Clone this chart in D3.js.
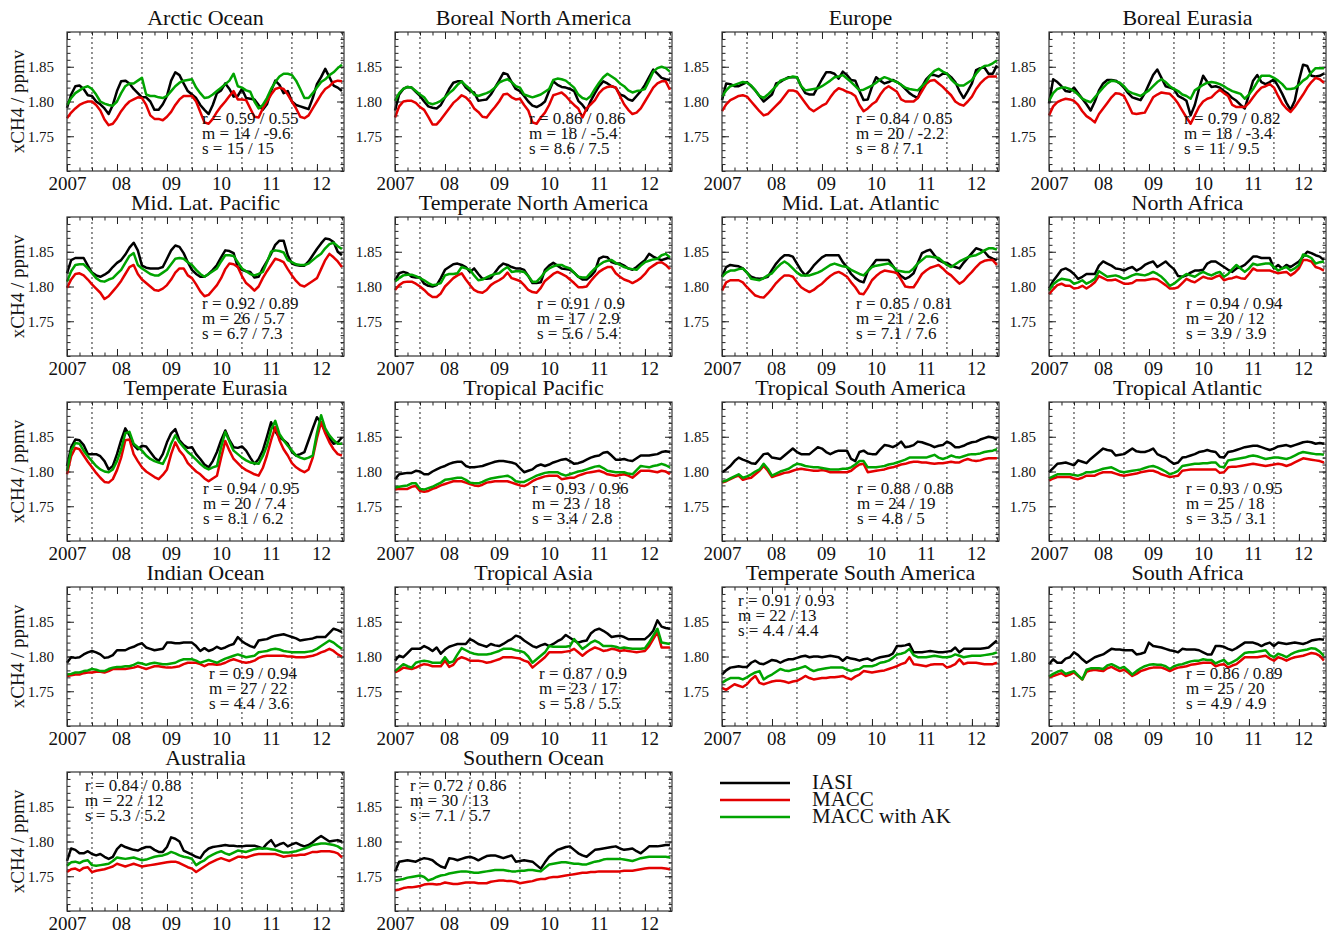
<!DOCTYPE html>
<html>
<head>
<meta charset="utf-8">
<script src="https://cdn.jsdelivr.net/npm/d3@7"></script>
<style>
  body { margin: 0; background: #fff; }
  svg text { font-family: "Liberation Serif", "Times New Roman", serif; fill: #111; }
</style>
</head>
<body>
<svg id="chart" width="1331" height="932"></svg>
<script>
// ---- data (ppb, monthly Jan 2007 .. Jul 2012) ----
const yearLabels = ["2007", "08", "09", "10", "11", "12"];
const yTickValues = [1.75, 1.80, 1.85];
const seriesNames = ["IASI", "MACC", "MACC with AK"];

const regionNames = [
  "Arctic Ocean", "Boreal North America", "Europe", "Boreal Eurasia",
  "Mid. Lat. Pacific", "Temperate North America", "Mid. Lat. Atlantic", "North Africa",
  "Temperate Eurasia", "Tropical Pacific", "Tropical South America", "Tropical Atlantic",
  "Indian Ocean", "Tropical Asia", "Temperate South America", "South Africa",
  "Australia", "Southern Ocean"
];

const statR = ["0.59 / 0.55", "0.86 / 0.86", "0.84 / 0.85", "0.79 / 0.82", "0.92 / 0.89", "0.91 / 0.9",
  "0.85 / 0.81", "0.94 / 0.94", "0.94 / 0.95", "0.93 / 0.96", "0.88 / 0.88", "0.93 / 0.95",
  "0.9 / 0.94", "0.87 / 0.9", "0.91 / 0.93", "0.86 / 0.89", "0.84 / 0.88", "0.72 / 0.86"];
const statM = ["14 / -9.6", "18 / -5.4", "20 / -2.2", "18 / -3.4", "26 / 5.7", "17 / 2.9",
  "21 / 2.6", "20 / 12", "20 / 7.4", "23 / 18", "24 / 19", "25 / 18",
  "27 / 22", "23 / 17", "22 / 13", "25 / 20", "22 / 12", "30 / 13"];
const statS = ["15 / 15", "8.6 / 7.5", "8 / 7.1", "11 / 9.5", "6.7 / 7.3", "5.6 / 5.4",
  "7.1 / 7.6", "3.9 / 3.9", "8.1 / 6.2", "3.4 / 2.8", "4.8 / 5", "3.5 / 3.1",
  "4.4 / 3.6", "5.8 / 5.5", "4.4 / 4.4", "4.9 / 4.9", "5.3 / 5.2", "7.1 / 5.7"];

const arcticIasi = [1791,1810,1822,1823,1818,1809,1808,1800,1796,1790,1782,1795,1815,1829,1830,1826,1818,1812,1806,1806,1800,1788,1788,1796,1808,1830,1842,1838,1826,1815,1810,1805,1795,1788,1782,1795,1812,1816,1826,1818,1807,1808,1818,1805,1804,1803,1795,1788,1796,1815,1830,1824,1812,1815,1800,1795,1793,1791,1789,1805,1825,1835,1847,1835,1823,1820,1815];
const arcticMacc = [1776,1784,1790,1795,1798,1800,1800,1795,1787,1774,1766,1768,1776,1786,1794,1800,1803,1806,1805,1795,1780,1775,1775,1773,1778,1785,1795,1803,1808,1808,1808,1800,1785,1770,1768,1775,1785,1793,1800,1808,1815,1803,1803,1802,1790,1778,1777,1790,1800,1810,1818,1820,1818,1810,1800,1790,1778,1776,1780,1790,1800,1810,1818,1822,1828,1830,1829];
const arcticAk = [1795,1805,1812,1816,1820,1822,1818,1810,1800,1797,1795,1794,1800,1812,1822,1826,1826,1830,1834,1810,1808,1808,1806,1805,1808,1815,1822,1827,1830,1831,1832,1820,1812,1805,1806,1810,1815,1820,1825,1830,1840,1822,1820,1816,1814,1800,1790,1795,1805,1818,1828,1836,1840,1840,1838,1830,1818,1805,1805,1812,1820,1828,1832,1838,1842,1848,1853];

const borealNaIasi = [1787,1810,1818,1821,1820,1814,1808,1800,1793,1791,1790,1795,1806,1818,1827,1829,1829,1820,1815,1813,1801,1802,1803,1810,1820,1830,1841,1839,1828,1818,1815,1808,1800,1794,1792,1795,1800,1815,1829,1824,1821,1820,1818,1815,1801,1795,1787,1801,1812,1822,1829,1826,1822,1820,1810,1808,1803,1801,1808,1815,1824,1835,1846,1840,1834,1832,1831];
const borealNaMacc = [1777,1793,1800,1801,1801,1798,1792,1788,1778,1767,1767,1774,1782,1790,1798,1803,1809,1806,1800,1790,1785,1778,1777,1785,1792,1800,1810,1811,1806,1803,1804,1795,1787,1770,1768,1777,1784,1795,1809,1811,1813,1808,1801,1795,1790,1777,1790,1796,1802,1812,1818,1821,1822,1820,1808,1796,1788,1782,1784,1790,1800,1810,1820,1826,1829,1829,1817];
const borealNaAk = [1801,1812,1818,1821,1820,1815,1810,1806,1798,1796,1798,1801,1806,1812,1817,1824,1829,1823,1818,1810,1808,1810,1812,1815,1820,1827,1830,1832,1828,1822,1820,1810,1808,1806,1808,1810,1814,1818,1831,1833,1832,1830,1825,1820,1810,1805,1803,1808,1818,1827,1835,1840,1836,1832,1826,1822,1816,1813,1815,1816,1818,1830,1843,1848,1850,1848,1843];

const europeIasi = [1802,1826,1825,1822,1822,1825,1828,1822,1816,1808,1800,1805,1810,1826,1828,1832,1835,1835,1835,1822,1812,1810,1810,1821,1832,1842,1842,1840,1833,1843,1838,1831,1830,1815,1802,1803,1821,1835,1830,1826,1828,1831,1828,1824,1818,1812,1808,1805,1821,1832,1838,1838,1836,1840,1840,1835,1828,1815,1805,1815,1826,1845,1848,1849,1840,1840,1852];
const europeMacc = [1786,1796,1802,1805,1808,1809,1807,1800,1793,1786,1780,1782,1788,1794,1800,1808,1816,1816,1814,1806,1798,1790,1786,1790,1794,1797,1806,1814,1819,1817,1814,1812,1808,1795,1786,1790,1796,1800,1810,1818,1822,1818,1814,1803,1800,1800,1800,1805,1815,1825,1830,1831,1826,1821,1815,1809,1800,1796,1794,1800,1807,1818,1826,1832,1836,1836,1836];
const europeAk = [1807,1816,1822,1824,1826,1828,1827,1823,1816,1808,1805,1810,1816,1822,1830,1832,1834,1836,1835,1822,1816,1817,1818,1819,1822,1826,1830,1835,1836,1838,1833,1828,1822,1816,1817,1820,1823,1827,1832,1835,1833,1830,1828,1824,1820,1818,1817,1816,1822,1828,1838,1844,1847,1843,1840,1832,1826,1823,1823,1827,1831,1840,1847,1851,1852,1855,1859];

const borealEuIasi = [1797,1832,1828,1822,1815,1814,1820,1812,1804,1796,1787,1800,1816,1826,1831,1831,1830,1826,1820,1812,1806,1804,1802,1812,1825,1838,1846,1834,1822,1820,1818,1808,1805,1801,1780,1795,1818,1837,1828,1821,1822,1820,1815,1811,1805,1801,1795,1790,1810,1830,1838,1828,1825,1828,1832,1822,1811,1798,1788,1801,1830,1853,1851,1837,1836,1837,1840];
const borealEuMacc = [1780,1793,1799,1802,1804,1803,1801,1795,1786,1779,1775,1770,1782,1790,1798,1806,1812,1811,1808,1796,1783,1782,1783,1784,1795,1806,1810,1813,1812,1811,1805,1797,1787,1777,1768,1780,1792,1800,1804,1806,1812,1817,1812,1808,1795,1792,1792,1792,1798,1806,1814,1820,1822,1825,1820,1808,1797,1790,1785,1792,1801,1810,1820,1828,1834,1832,1827];
const borealEuAk = [1801,1812,1818,1820,1820,1818,1815,1810,1804,1801,1799,1806,1813,1820,1826,1830,1829,1827,1822,1815,1812,1810,1808,1812,1816,1822,1828,1832,1828,1822,1818,1815,1810,1808,1804,1816,1820,1824,1827,1828,1827,1825,1822,1818,1815,1813,1811,1804,1810,1818,1828,1837,1837,1837,1834,1830,1825,1818,1818,1819,1824,1830,1834,1842,1848,1848,1848];

const mlPacificIasi = [1819,1838,1841,1841,1841,1830,1820,1816,1814,1817,1821,1828,1834,1838,1846,1856,1863,1852,1830,1827,1826,1826,1826,1828,1840,1852,1859,1857,1848,1835,1824,1818,1814,1814,1818,1824,1831,1842,1852,1851,1848,1828,1824,1822,1821,1813,1814,1826,1836,1847,1860,1866,1866,1845,1833,1831,1830,1830,1836,1845,1854,1862,1869,1868,1864,1850,1845];
const mlPacificMacc = [1798,1810,1818,1819,1816,1810,1803,1797,1791,1782,1786,1793,1800,1808,1818,1828,1831,1818,1810,1805,1800,1795,1794,1797,1802,1810,1820,1826,1826,1816,1812,1803,1793,1786,1788,1795,1802,1812,1825,1833,1832,1828,1815,1805,1800,1794,1800,1812,1822,1831,1840,1838,1835,1825,1816,1808,1802,1800,1804,1808,1812,1825,1838,1847,1842,1836,1828];
const mlPacificAk = [1807,1822,1831,1832,1832,1826,1819,1812,1808,1807,1810,1812,1818,1824,1834,1844,1848,1831,1826,1822,1818,1816,1816,1820,1824,1832,1840,1841,1840,1835,1831,1824,1818,1814,1818,1822,1826,1836,1845,1845,1844,1835,1826,1822,1818,1816,1818,1821,1835,1850,1852,1851,1849,1838,1835,1832,1831,1831,1833,1838,1843,1847,1855,1861,1863,1858,1854];

const tempNaIasi = [1809,1819,1821,1819,1814,1813,1813,1804,1801,1800,1802,1812,1824,1828,1832,1833,1831,1828,1821,1826,1818,1811,1811,1812,1820,1828,1833,1831,1828,1826,1826,1824,1815,1805,1805,1806,1824,1830,1834,1830,1826,1825,1824,1820,1814,1810,1810,1815,1822,1840,1843,1842,1835,1833,1833,1830,1826,1824,1828,1833,1838,1847,1843,1840,1838,1840,1842];
const tempNaMacc = [1795,1802,1806,1807,1807,1804,1800,1795,1789,1785,1785,1790,1800,1806,1812,1816,1819,1810,1802,1795,1792,1791,1795,1802,1806,1809,1813,1820,1812,1810,1808,1802,1795,1792,1791,1798,1808,1813,1818,1821,1818,1815,1810,1805,1799,1799,1800,1808,1815,1821,1825,1828,1828,1819,1814,1810,1808,1805,1808,1812,1818,1826,1830,1834,1835,1831,1825];
const tempNaAk = [1807,1812,1816,1817,1817,1815,1812,1809,1805,1802,1803,1805,1816,1818,1818,1819,1828,1826,1824,1816,1809,1810,1813,1816,1818,1819,1824,1828,1821,1822,1822,1821,1815,1807,1807,1813,1821,1826,1829,1831,1831,1828,1826,1820,1814,1813,1813,1820,1826,1831,1835,1837,1838,1834,1831,1828,1826,1825,1824,1830,1835,1837,1839,1840,1845,1847,1842];

const mlAtlanticIasi = [1814,1828,1831,1830,1829,1826,1820,1814,1812,1811,1812,1814,1824,1833,1840,1845,1845,1843,1833,1823,1816,1822,1830,1836,1842,1845,1845,1845,1845,1835,1828,1818,1812,1808,1806,1822,1830,1838,1838,1838,1838,1830,1821,1815,1811,1814,1819,1834,1848,1851,1853,1845,1838,1835,1834,1830,1828,1826,1834,1841,1848,1855,1853,1850,1843,1840,1838];
const mlAtlanticMacc = [1794,1806,1809,1809,1809,1806,1799,1793,1787,1785,1784,1790,1797,1805,1811,1816,1816,1814,1806,1799,1795,1792,1795,1800,1804,1810,1815,1819,1821,1818,1814,1806,1799,1790,1789,1798,1809,1815,1820,1823,1822,1821,1819,1810,1800,1799,1799,1808,1818,1823,1827,1829,1831,1826,1820,1816,1810,1804,1808,1815,1821,1828,1834,1837,1838,1838,1831];
const mlAtlanticAk = [1814,1820,1823,1823,1825,1826,1820,1811,1810,1809,1812,1816,1819,1826,1832,1836,1832,1826,1820,1816,1816,1816,1818,1820,1823,1827,1831,1833,1831,1829,1828,1824,1821,1818,1816,1822,1828,1830,1831,1832,1833,1829,1823,1822,1821,1821,1826,1833,1838,1843,1843,1842,1841,1836,1831,1828,1832,1836,1839,1842,1844,1845,1848,1852,1855,1855,1853];

const nAfricaIasi = [1797,1808,1816,1824,1826,1823,1818,1811,1814,1818,1818,1818,1830,1836,1833,1830,1826,1825,1823,1826,1828,1823,1826,1831,1834,1836,1828,1832,1836,1830,1825,1815,1814,1816,1820,1823,1823,1824,1833,1836,1836,1832,1828,1824,1821,1826,1828,1831,1837,1843,1843,1841,1841,1841,1826,1831,1826,1831,1828,1832,1836,1843,1850,1848,1845,1843,1838];
const nAfricaMacc = [1789,1796,1802,1804,1801,1801,1797,1798,1801,1797,1801,1806,1815,1812,1809,1809,1810,1807,1804,1804,1805,1809,1809,1809,1810,1811,1810,1806,1802,1797,1797,1799,1805,1811,1808,1806,1810,1814,1812,1811,1814,1816,1809,1811,1812,1814,1812,1811,1818,1826,1823,1823,1823,1823,1821,1819,1820,1821,1816,1820,1826,1838,1838,1836,1828,1826,1823];
const nAfricaAk = [1794,1803,1808,1811,1810,1809,1804,1806,1809,1804,1807,1811,1822,1818,1814,1815,1816,1814,1811,1813,1816,1818,1817,1816,1818,1821,1818,1814,1808,1801,1804,1809,1814,1818,1816,1814,1818,1821,1818,1816,1819,1821,1814,1818,1825,1831,1826,1821,1826,1833,1831,1832,1833,1833,1828,1823,1826,1828,1823,1826,1831,1846,1844,1841,1833,1835,1836];

const tempEuIasi = [1808,1835,1846,1845,1838,1825,1825,1825,1822,1815,1803,1808,1825,1845,1862,1852,1838,1832,1837,1836,1828,1820,1815,1825,1842,1855,1861,1845,1838,1834,1835,1825,1818,1810,1806,1815,1828,1845,1859,1845,1835,1834,1836,1830,1820,1811,1818,1830,1850,1871,1858,1849,1845,1840,1828,1823,1825,1828,1845,1862,1878,1870,1858,1848,1840,1842,1849];
const tempEuMacc = [1796,1822,1834,1832,1823,1814,1806,1798,1791,1785,1784,1789,1802,1820,1845,1846,1825,1815,1806,1800,1796,1792,1789,1795,1803,1825,1842,1830,1823,1812,1806,1800,1796,1790,1786,1790,1794,1820,1844,1830,1818,1812,1806,1802,1799,1796,1794,1805,1823,1845,1864,1845,1832,1823,1812,1806,1802,1799,1803,1820,1848,1871,1855,1842,1832,1825,1823];
const tempEuAk = [1801,1830,1841,1840,1830,1822,1815,1808,1803,1800,1799,1803,1815,1832,1855,1857,1840,1835,1830,1823,1818,1815,1813,1811,1823,1840,1852,1842,1835,1828,1823,1817,1811,1806,1803,1806,1808,1835,1857,1843,1830,1825,1820,1816,1813,1812,1811,1822,1837,1860,1873,1854,1845,1837,1830,1823,1820,1818,1820,1823,1855,1881,1862,1852,1845,1840,1840];

const tropPacIasi = [1789,1796,1797,1798,1798,1801,1800,1796,1796,1800,1803,1806,1808,1811,1813,1814,1814,1808,1806,1806,1807,1808,1810,1812,1814,1815,1815,1814,1813,1811,1805,1799,1801,1803,1808,1810,1808,1810,1813,1815,1817,1818,1815,1811,1812,1814,1817,1820,1822,1823,1827,1828,1823,1817,1817,1818,1816,1815,1819,1823,1823,1823,1824,1825,1828,1829,1828];
const tropPacMacc = [1774,1775,1775,1775,1778,1779,1772,1771,1772,1775,1777,1780,1782,1784,1786,1786,1786,1784,1782,1780,1779,1781,1784,1785,1786,1786,1786,1786,1784,1782,1780,1779,1782,1786,1789,1791,1793,1794,1794,1794,1789,1790,1791,1791,1794,1796,1798,1799,1800,1801,1799,1796,1795,1794,1795,1796,1794,1791,1796,1801,1801,1801,1800,1799,1801,1800,1796];
const tropPacAk = [1777,1778,1779,1780,1783,1783,1775,1774,1776,1778,1781,1784,1788,1789,1790,1791,1791,1788,1784,1783,1783,1785,1788,1790,1791,1792,1793,1794,1791,1786,1785,1785,1788,1791,1794,1796,1798,1799,1799,1799,1796,1794,1796,1798,1800,1801,1803,1805,1807,1808,1805,1801,1800,1799,1799,1799,1797,1796,1802,1808,1807,1806,1808,1809,1811,1809,1806];

const tropSaIasi = [1799,1803,1808,1815,1820,1817,1815,1812,1811,1818,1825,1826,1820,1819,1818,1823,1828,1833,1828,1825,1825,1825,1830,1835,1833,1828,1825,1828,1830,1830,1830,1818,1815,1828,1830,1826,1825,1825,1832,1838,1837,1835,1838,1843,1835,1836,1838,1843,1842,1840,1838,1835,1837,1838,1843,1840,1835,1835,1837,1840,1842,1843,1846,1848,1850,1849,1846];
const tropSaMacc = [1784,1786,1789,1792,1794,1788,1790,1791,1796,1801,1808,1801,1792,1794,1796,1798,1799,1801,1803,1804,1803,1802,1801,1801,1802,1801,1799,1799,1799,1799,1799,1801,1806,1810,1811,1799,1800,1801,1802,1803,1805,1806,1808,1810,1811,1813,1814,1814,1813,1813,1812,1811,1812,1812,1813,1814,1813,1813,1816,1818,1816,1815,1816,1818,1819,1819,1819];
const tropSaAk = [1785,1787,1790,1793,1796,1791,1793,1796,1800,1803,1811,1804,1794,1797,1800,1802,1804,1808,1811,1810,1808,1807,1806,1806,1805,1804,1803,1803,1803,1804,1804,1806,1810,1815,1815,1806,1806,1806,1807,1808,1810,1811,1813,1815,1817,1820,1820,1820,1820,1820,1822,1824,1820,1818,1820,1823,1821,1820,1822,1824,1825,1825,1826,1828,1829,1830,1832];

const tropAtlIasi = [1799,1805,1811,1812,1813,1811,1809,1816,1814,1812,1818,1823,1828,1833,1831,1830,1823,1824,1825,1829,1833,1829,1828,1828,1830,1833,1825,1822,1820,1815,1811,1813,1820,1821,1823,1825,1828,1829,1831,1829,1828,1821,1820,1828,1829,1831,1833,1835,1836,1837,1837,1835,1833,1831,1833,1836,1837,1838,1836,1838,1840,1842,1843,1842,1840,1841,1840];
const tropAtlMacc = [1787,1790,1792,1792,1792,1792,1790,1789,1791,1794,1794,1794,1797,1799,1799,1799,1797,1795,1794,1795,1796,1797,1799,1800,1801,1801,1799,1796,1794,1792,1793,1794,1801,1802,1803,1803,1803,1803,1803,1803,1803,1798,1799,1806,1807,1807,1808,1809,1810,1811,1810,1809,1808,1809,1810,1811,1810,1808,1810,1813,1816,1819,1818,1817,1816,1815,1813];
const tropAtlAk = [1790,1793,1796,1796,1796,1796,1795,1794,1796,1799,1799,1800,1802,1804,1805,1806,1803,1800,1799,1800,1801,1802,1803,1805,1807,1808,1806,1803,1800,1796,1798,1801,1808,1809,1810,1811,1811,1812,1812,1813,1813,1807,1806,1816,1817,1818,1819,1820,1822,1823,1822,1820,1818,1819,1820,1820,1819,1818,1820,1823,1826,1828,1827,1826,1825,1825,1824];

const indianIasi = [1791,1799,1798,1799,1803,1806,1808,1806,1803,1798,1799,1802,1809,1809,1809,1812,1814,1817,1819,1813,1811,1809,1810,1811,1820,1820,1819,1819,1820,1820,1820,1815,1808,1812,1808,1810,1814,1811,1813,1816,1818,1828,1822,1818,1815,1813,1823,1824,1825,1828,1830,1831,1832,1830,1828,1826,1823,1824,1825,1826,1828,1828,1828,1834,1840,1838,1835];
const indianMacc = [1772,1773,1774,1774,1776,1777,1777,1778,1778,1777,1779,1782,1782,1782,1782,1783,1784,1786,1784,1782,1784,1786,1786,1785,1784,1784,1785,1786,1789,1791,1791,1791,1789,1786,1789,1789,1788,1789,1791,1794,1796,1794,1792,1791,1792,1794,1798,1800,1801,1801,1801,1801,1801,1800,1800,1799,1799,1799,1800,1801,1803,1806,1808,1811,1808,1803,1800];
const indianAk = [1774,1775,1777,1777,1779,1780,1782,1781,1779,1779,1782,1784,1785,1785,1786,1786,1788,1791,1790,1788,1790,1791,1790,1789,1789,1790,1791,1794,1796,1796,1796,1794,1791,1793,1795,1793,1791,1794,1797,1799,1801,1803,1801,1799,1800,1801,1806,1807,1808,1810,1811,1810,1808,1807,1806,1806,1806,1806,1807,1808,1811,1815,1819,1823,1820,1815,1811];

const tropAsiaIasi = [1794,1801,1799,1805,1811,1811,1811,1815,1812,1808,1813,1804,1810,1814,1816,1818,1818,1818,1825,1822,1818,1816,1814,1818,1816,1815,1818,1822,1825,1830,1828,1823,1819,1815,1813,1816,1818,1815,1818,1822,1825,1831,1827,1823,1820,1822,1823,1833,1838,1840,1837,1833,1828,1829,1830,1828,1825,1825,1825,1825,1825,1830,1837,1852,1843,1841,1840];
const tropAsiaMacc = [1777,1780,1784,1783,1782,1784,1787,1789,1788,1786,1786,1786,1794,1785,1788,1796,1799,1797,1794,1794,1794,1793,1791,1792,1794,1796,1799,1799,1799,1798,1797,1794,1792,1784,1789,1794,1799,1806,1806,1806,1806,1807,1808,1811,1806,1801,1806,1810,1813,1811,1808,1809,1811,1810,1808,1809,1808,1807,1806,1807,1808,1815,1825,1835,1813,1813,1813];
const tropAsiaAk = [1779,1784,1789,1786,1784,1791,1793,1794,1793,1791,1791,1791,1799,1791,1793,1803,1812,1809,1806,1804,1803,1803,1803,1804,1806,1808,1811,1811,1811,1809,1808,1806,1800,1791,1796,1801,1806,1815,1814,1814,1814,1814,1815,1825,1818,1811,1815,1820,1823,1820,1815,1815,1815,1814,1812,1813,1812,1811,1811,1811,1812,1820,1830,1840,1820,1819,1818];

const tempSaIasi = [1774,1780,1784,1785,1786,1785,1785,1791,1794,1790,1789,1792,1795,1794,1791,1794,1796,1796,1798,1800,1801,1799,1800,1800,1799,1800,1801,1800,1799,1794,1799,1797,1796,1794,1796,1797,1794,1797,1799,1800,1801,1804,1815,1815,1816,1818,1806,1806,1806,1807,1808,1807,1806,1806,1807,1808,1813,1806,1811,1811,1811,1811,1811,1812,1813,1818,1823];
const tempSaMacc = [1755,1752,1756,1760,1758,1756,1760,1767,1772,1762,1760,1762,1764,1765,1765,1764,1762,1764,1765,1768,1772,1769,1767,1768,1769,1769,1770,1770,1771,1772,1769,1767,1771,1774,1779,1778,1777,1778,1779,1780,1782,1784,1786,1789,1791,1799,1789,1788,1787,1786,1788,1789,1789,1789,1784,1786,1789,1796,1789,1791,1791,1791,1790,1789,1789,1789,1791];
const tempSaAk = [1762,1766,1769,1769,1769,1767,1770,1774,1777,1779,1767,1771,1774,1778,1782,1780,1779,1781,1782,1784,1786,1782,1779,1781,1782,1783,1784,1784,1784,1784,1781,1779,1781,1782,1786,1786,1786,1788,1791,1792,1794,1798,1803,1804,1806,1811,1802,1799,1799,1799,1800,1801,1800,1799,1799,1800,1803,1801,1799,1800,1801,1801,1801,1802,1803,1804,1806];

const sAfricaIasi = [1789,1796,1791,1791,1797,1799,1806,1802,1796,1791,1795,1799,1801,1803,1807,1811,1810,1810,1809,1809,1809,1803,1804,1806,1820,1815,1814,1813,1811,1809,1808,1806,1811,1810,1810,1810,1809,1806,1803,1803,1815,1815,1814,1811,1809,1812,1816,1820,1820,1820,1818,1815,1818,1820,1815,1820,1819,1818,1819,1820,1819,1818,1820,1823,1824,1825,1824];
const sAfricaMacc = [1770,1772,1774,1776,1772,1774,1777,1772,1767,1778,1780,1781,1780,1779,1783,1785,1782,1779,1781,1777,1772,1775,1779,1781,1783,1784,1784,1784,1782,1779,1782,1784,1785,1786,1788,1789,1790,1791,1791,1791,1786,1788,1789,1784,1787,1789,1794,1799,1799,1799,1799,1800,1801,1797,1794,1799,1797,1794,1797,1799,1800,1801,1803,1805,1804,1801,1794];
const sAfricaAk = [1771,1775,1778,1780,1775,1777,1779,1773,1767,1781,1783,1783,1783,1782,1787,1789,1786,1783,1785,1780,1774,1779,1783,1786,1788,1789,1788,1788,1786,1782,1786,1788,1789,1791,1793,1794,1794,1796,1795,1795,1790,1793,1795,1789,1792,1795,1800,1805,1806,1806,1807,1808,1809,1802,1799,1804,1802,1799,1803,1806,1808,1809,1810,1812,1811,1807,1801];

const australiaIasi = [1772,1790,1788,1783,1783,1786,1782,1780,1782,1778,1775,1778,1789,1795,1792,1790,1788,1787,1790,1792,1792,1788,1785,1785,1792,1806,1804,1800,1787,1784,1781,1778,1776,1785,1790,1792,1793,1794,1795,1794,1794,1793,1793,1794,1794,1794,1792,1790,1797,1802,1793,1796,1798,1793,1796,1798,1795,1793,1795,1799,1804,1808,1804,1800,1801,1802,1800];
const australiaMacc = [1756,1760,1761,1758,1762,1763,1756,1758,1759,1760,1762,1764,1768,1766,1764,1766,1768,1766,1764,1765,1766,1767,1768,1769,1770,1771,1771,1769,1766,1763,1761,1756,1760,1764,1768,1771,1774,1776,1774,1772,1775,1778,1778,1777,1779,1781,1782,1782,1782,1782,1782,1780,1778,1779,1780,1780,1781,1781,1783,1785,1785,1786,1786,1786,1785,1783,1777];
const australiaAk = [1765,1770,1771,1769,1772,1773,1766,1765,1766,1767,1768,1772,1777,1776,1775,1776,1777,1775,1773,1774,1776,1778,1779,1780,1782,1785,1783,1780,1778,1777,1775,1766,1770,1773,1778,1781,1784,1786,1783,1781,1784,1787,1786,1785,1787,1789,1790,1790,1790,1789,1788,1786,1784,1784,1785,1786,1788,1790,1792,1795,1796,1797,1797,1796,1795,1793,1789];

const southernIasi = [1757,1771,1772,1773,1772,1771,1774,1776,1775,1773,1768,1764,1762,1776,1775,1773,1775,1777,1778,1776,1773,1776,1779,1780,1780,1778,1776,1778,1780,1771,1772,1773,1772,1771,1766,1761,1770,1778,1783,1788,1790,1792,1793,1788,1783,1780,1778,1783,1788,1789,1790,1791,1792,1793,1790,1788,1789,1790,1786,1783,1788,1793,1793,1793,1794,1795,1795];
const southernMacc = [1730,1731,1733,1734,1734,1735,1736,1738,1739,1739,1738,1739,1741,1740,1739,1739,1740,1741,1741,1741,1740,1740,1740,1742,1743,1744,1744,1743,1743,1742,1740,1741,1742,1743,1745,1746,1746,1748,1749,1749,1750,1751,1752,1753,1754,1755,1755,1756,1756,1757,1757,1757,1757,1757,1757,1758,1758,1758,1759,1760,1761,1762,1762,1762,1762,1761,1760];
const southernAk = [1744,1745,1746,1748,1749,1750,1751,1749,1744,1746,1749,1751,1752,1754,1755,1756,1757,1757,1756,1755,1755,1756,1757,1758,1759,1759,1759,1758,1757,1757,1758,1758,1759,1759,1758,1757,1762,1767,1768,1769,1770,1770,1769,1768,1768,1767,1767,1769,1771,1772,1774,1775,1775,1775,1775,1774,1773,1772,1774,1776,1777,1778,1778,1778,1778,1778,1777];

const iasiSeries = [arcticIasi, borealNaIasi, europeIasi, borealEuIasi, mlPacificIasi, tempNaIasi,
  mlAtlanticIasi, nAfricaIasi, tempEuIasi, tropPacIasi, tropSaIasi, tropAtlIasi,
  indianIasi, tropAsiaIasi, tempSaIasi, sAfricaIasi, australiaIasi, southernIasi];
const maccSeries = [arcticMacc, borealNaMacc, europeMacc, borealEuMacc, mlPacificMacc, tempNaMacc,
  mlAtlanticMacc, nAfricaMacc, tempEuMacc, tropPacMacc, tropSaMacc, tropAtlMacc,
  indianMacc, tropAsiaMacc, tempSaMacc, sAfricaMacc, australiaMacc, southernMacc];
const akSeries = [arcticAk, borealNaAk, europeAk, borealEuAk, mlPacificAk, tempNaAk,
  mlAtlanticAk, nAfricaAk, tempEuAk, tropPacAk, tropSaAk, tropAtlAk,
  indianAk, tropAsiaAk, tempSaAk, sAfricaAk, australiaAk, southernAk];

// ---- layout ----
const config = {
  colLeft: [67, 395, 722, 1049],
  rowTop: [32, 217, 402, 587, 772],
  plotWidth: 277,
  plotHeight: 139,
  colors: ["#000000", "#e40000", "#00a400"],
  lineWidth: 2.5
};
// where the r/m/s block sits: x offset from the plot's left edge, and top or bottom placement
const statPlace = [
  [135, "b"], [134, "b"], [134, "b"], [135, "b"],
  [135, "b"], [142, "b"], [134, "b"], [137, "b"],
  [136, "b"], [137, "b"], [135, "b"], [137, "b"],
  [142, "b"], [144, "b"], [16, "t"], [137, "b"],
  [18, "t"], [15, "t"]
];

const panels = regionNames.map((name, k) => ({
  name: name,
  series: [iasiSeries[k], maccSeries[k], akSeries[k]],
  stats: ["r = " + statR[k], "m = " + statM[k], "s = " + statS[k]],
  place: statPlace[k]
}));

const svg = d3.select("#chart");

const xScale = d3.scaleLinear().domain([0, 66.5]).range([0, config.plotWidth]);
const yScale = d3.scaleLinear().domain([1.70, 1.90]).range([config.plotHeight, 0]);

const yearStarts = yearLabels.map((d, i) => i * 12);
const julyLines = yearLabels.map((d, i) => i * 12 + 6);
const yMinor = d3.range(170, 191).map(v => v / 100);
const xMinor = d3.range(0, 67, 3);

const line = d3.line()
  .x((d, i) => xScale(i))
  .y(d => yScale(d / 1000));

function styleAxis(g) {
  g.attr("font-family", null).attr("font-size", null).attr("color", "#222");
  g.select(".domain").remove();
  g.selectAll(".tick line").attr("stroke-width", 1);
}

panels.forEach((p, k) => {
  const col = k % 4;
  const row = Math.floor(k / 4);
  const g = svg.append("g")
    .attr("class", "panel")
    .attr("transform", `translate(${config.colLeft[col]},${config.rowTop[row]})`);

  // title
  g.append("text")
    .attr("x", config.plotWidth / 2)
    .attr("y", -7)
    .attr("text-anchor", "middle")
    .style("font-size", "22px")
    .text(p.name);

  // dotted mid-year lines
  g.selectAll(".midyear")
    .data(julyLines)
    .join("line")
    .attr("class", "midyear")
    .attr("x1", d => xScale(d)).attr("x2", d => xScale(d))
    .attr("y1", 0).attr("y2", config.plotHeight)
    .attr("stroke", "#222")
    .attr("stroke-width", 1)
    .attr("stroke-dasharray", "2,3");

  // axes: ticks point inward on all four sides
  g.append("g").call(d3.axisLeft(yScale).tickValues(yMinor).tickSize(-3.5).tickFormat(""))
    .call(styleAxis);
  g.append("g").call(d3.axisLeft(yScale).tickValues(yTickValues).tickSize(-7).tickPadding(13)
    .tickFormat(d3.format(".2f")))
    .call(styleAxis)
    .selectAll("text").style("font-size", "15px");
  g.append("g").attr("transform", `translate(${config.plotWidth},0)`)
    .call(d3.axisRight(yScale).tickValues(yMinor).tickSize(-3.5).tickFormat(""))
    .call(styleAxis);
  g.append("g").attr("transform", `translate(${config.plotWidth},0)`)
    .call(d3.axisRight(yScale).tickValues(yTickValues).tickSize(-7).tickFormat(""))
    .call(styleAxis);

  g.append("g").attr("transform", `translate(0,${config.plotHeight})`)
    .call(d3.axisBottom(xScale).tickValues(xMinor).tickSize(-3.5).tickFormat(""))
    .call(styleAxis);
  g.append("g").attr("transform", `translate(0,${config.plotHeight})`)
    .call(d3.axisBottom(xScale).tickValues(yearStarts).tickSize(-7).tickPadding(6)
      .tickFormat((d, i) => yearLabels[i]))
    .call(styleAxis)
    .selectAll("text")
    .style("font-size", "19px")
    .attr("dx", (d, i) => i === 0 ? 0 : 4);
  g.append("g")
    .call(d3.axisTop(xScale).tickValues(xMinor).tickSize(-3.5).tickFormat(""))
    .call(styleAxis);
  g.append("g")
    .call(d3.axisTop(xScale).tickValues(yearStarts).tickSize(-7).tickFormat(""))
    .call(styleAxis);

  // y axis title only in the first column
  if (col === 0) {
    g.append("text")
      .attr("transform", `translate(-43,${config.plotHeight / 2}) rotate(-90)`)
      .attr("text-anchor", "middle")
      .style("font-size", "19px")
      .text("xCH4 / ppmv");
  }

  // series
  g.selectAll(".series")
    .data(p.series)
    .join("path")
    .attr("class", "series")
    .attr("d", d => line(d))
    .attr("fill", "none")
    .attr("stroke", (d, i) => config.colors[i])
    .attr("stroke-width", config.lineWidth)
    .attr("stroke-linejoin", "round");

  // statistics block
  const top = p.place[1] === "t" ? 19 : 92;
  g.selectAll(".stat")
    .data(p.stats)
    .join("text")
    .attr("class", "stat")
    .attr("x", p.place[0])
    .attr("y", (d, i) => top + i * 15)
    .style("font-size", "17px")
    .text(d => d);

  // frame
  g.append("rect")
    .attr("width", config.plotWidth)
    .attr("height", config.plotHeight)
    .attr("fill", "none")
    .attr("stroke", "#333")
    .attr("stroke-width", 1.2);
});

// legend
const legend = svg.append("g").attr("transform", "translate(720,783)");
seriesNames.forEach((name, i) => {
  legend.append("line")
    .attr("x1", 0).attr("x2", 70)
    .attr("y1", i * 17).attr("y2", i * 17)
    .attr("stroke", config.colors[i])
    .attr("stroke-width", 2.6);
  legend.append("text")
    .attr("x", 92)
    .attr("y", i * 17 + 6)
    .style("font-size", "21px")
    .text(name);
});
</script>
</body>
</html>
